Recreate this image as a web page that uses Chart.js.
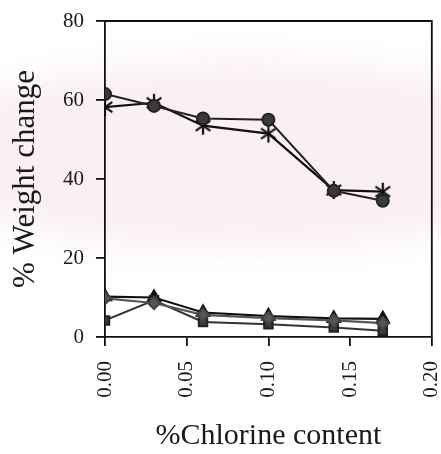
<!DOCTYPE html>
<html>
<head>
<meta charset="utf-8">
<script src="https://cdn.jsdelivr.net/npm/chart.js@4.4.1/dist/chart.umd.min.js"></script>
<style>
    body { margin: 0; background: #fff; }
    #wrap { width: 441px; height: 454px; position: relative; }
</style>
</head>
<body>
<div id="wrap"><canvas id="weightChart"></canvas></div>
<script>
// chlorine content (x) shared by all series
const chlorine = [0, 0.03, 0.06, 0.10, 0.14, 0.17];

// % weight change per series
const circleSeries   = [61.5, 58.5, 55.3, 55.0, 37.0, 34.5];
const starSeries     = [58.2, 59.3, 53.5, 51.5, 37.2, 36.8];
const triangleSeries = [10.2, 10.0, 6.2, 5.3, 4.7, 4.6];
const diamondSeries  = [9.8, 8.6, 5.6, 4.8, 4.2, 3.5];
const squareSeries   = [4.2, 9.3, 3.8, 3.2, 2.4, 1.6];

const xTicks = [0, 0.05, 0.10, 0.15, 0.20];
const yTicks = [0, 20, 40, 60, 80];

const serif = 'Liberation Serif';

function toPoints(values) {
    return values.map((v, i) => ({ x: chlorine[i], y: v }));
}

// six-armed asterisk marker
function makeAsterisk(size) {
    const c = document.createElement('canvas');
    c.width = size; c.height = size;
    const g = c.getContext('2d');
    const r = size / 2 - 1;
    g.strokeStyle = '#111';
    g.lineWidth = 2.2;
    g.translate(size / 2, size / 2);
    [90, 35, 145].forEach(deg => {
        const a = deg * Math.PI / 180;
        g.beginPath();
        g.moveTo(-r * Math.cos(a), -r * Math.sin(a));
        g.lineTo(r * Math.cos(a), r * Math.sin(a));
        g.stroke();
    });
    return c;
}

// faint pink watermark + box round the plot
const decor = {
    id: 'decor',
    beforeDraw(chart) {
        const ctx = chart.ctx;
        ctx.save();
        ctx.fillStyle = '#fff';
        ctx.fillRect(0, 0, chart.width, chart.height);
        ctx.filter = 'blur(16px)';
        ctx.fillStyle = 'rgba(240, 208, 224, 0.35)';
        ctx.beginPath();
        ctx.ellipse(240, 155, 330, 95, 0, 0, Math.PI * 2);
        ctx.fill();
        ctx.restore();
    },
    afterDraw(chart) {
        const { left, right, top, bottom } = chart.chartArea;
        const ctx = chart.ctx;
        ctx.save();
        ctx.strokeStyle = '#111';
        ctx.lineWidth = 1.8;
        ctx.beginPath();
        ctx.moveTo(left, top);
        ctx.lineTo(right, top);
        ctx.lineTo(right, bottom);
        ctx.stroke();
        ctx.restore();
    }
};

const ctx = document.getElementById('weightChart').getContext('2d');
new Chart(ctx, {
    type: 'line',
    data: {
        datasets: [
            {
                label: 'circle',
                data: toPoints(circleSeries),
                borderColor: '#222',
                borderWidth: 2,
                pointStyle: 'circle',
                pointRadius: 6,
                pointBackgroundColor: '#3a3a3a',
                pointBorderColor: '#222'
            },
            {
                label: 'star',
                data: toPoints(starSeries),
                borderColor: '#111',
                borderWidth: 2.2,
                pointStyle: makeAsterisk(20)
            },
            {
                label: 'diamond',
                data: toPoints(diamondSeries),
                borderColor: '#555',
                borderWidth: 2.2,
                pointStyle: 'rectRot',
                pointRadius: 6,
                pointBackgroundColor: '#555',
                pointBorderColor: '#444'
            },
            {
                label: 'square',
                data: toPoints(squareSeries),
                borderColor: '#333',
                borderWidth: 2,
                pointStyle: 'rect',
                pointRadius: 6,
                pointBackgroundColor: '#3a3a3a',
                pointBorderColor: '#222'
            },
            {
                label: 'triangle',
                data: toPoints(triangleSeries),
                borderColor: '#111',
                borderWidth: 2.2,
                pointStyle: 'triangle',
                pointRadius: 7,
                pointBackgroundColor: '#111',
                pointBorderColor: '#111'
            }
        ]
    },
    options: {
        responsive: true,
        maintainAspectRatio: false,
        animation: false,
        layout: {
            padding: { top: 21, right: 9, left: 0, bottom: 0 }
        },
        plugins: {
            legend: { display: false },
            tooltip: { enabled: false }
        },
        scales: {
            x: {
                type: 'linear',
                min: 0,
                max: 0.2,
                afterBuildTicks: scale => {
                    scale.ticks = xTicks.map(v => ({ value: v }));
                },
                afterFit: scale => {
                    scale.height = 117;
                    scale.paddingLeft = 0;
                    scale.paddingRight = 0;
                },
                ticks: {
                    minRotation: 90,
                    maxRotation: 90,
                    padding: 15,
                    color: '#1a1a1a',
                    font: { family: serif, size: 21 },
                    callback: v => Number(v).toFixed(2)
                },
                grid: {
                    drawOnChartArea: false,
                    drawTicks: true,
                    tickLength: 9,
                    color: '#111',
                    lineWidth: 1.8
                },
                border: { color: '#111', width: 1.8 },
                title: {
                    display: true,
                    text: '%Chlorine content',
                    color: '#1a1a1a',
                    font: { family: serif, size: 30 },
                    padding: { top: 0, bottom: 0 }
                }
            },
            y: {
                min: 0,
                max: 80,
                afterBuildTicks: scale => {
                    scale.ticks = yTicks.map(v => ({ value: v }));
                },
                afterFit: scale => {
                    scale.width = 105;
                    scale.paddingTop = 0;
                    scale.paddingBottom = 0;
                },
                ticks: {
                    padding: 12,
                    color: '#1a1a1a',
                    font: { family: serif, size: 21 }
                },
                grid: {
                    drawOnChartArea: false,
                    drawTicks: true,
                    tickLength: 9,
                    color: '#111',
                    lineWidth: 1.8
                },
                border: { color: '#111', width: 1.8 },
                title: {
                    display: true,
                    text: '% Weight change',
                    color: '#1a1a1a',
                    font: { family: serif, size: 31 },
                    padding: { top: 7, bottom: 0 }
                }
            }
        }
    },
    plugins: [decor]
});
</script>
</body>
</html>
